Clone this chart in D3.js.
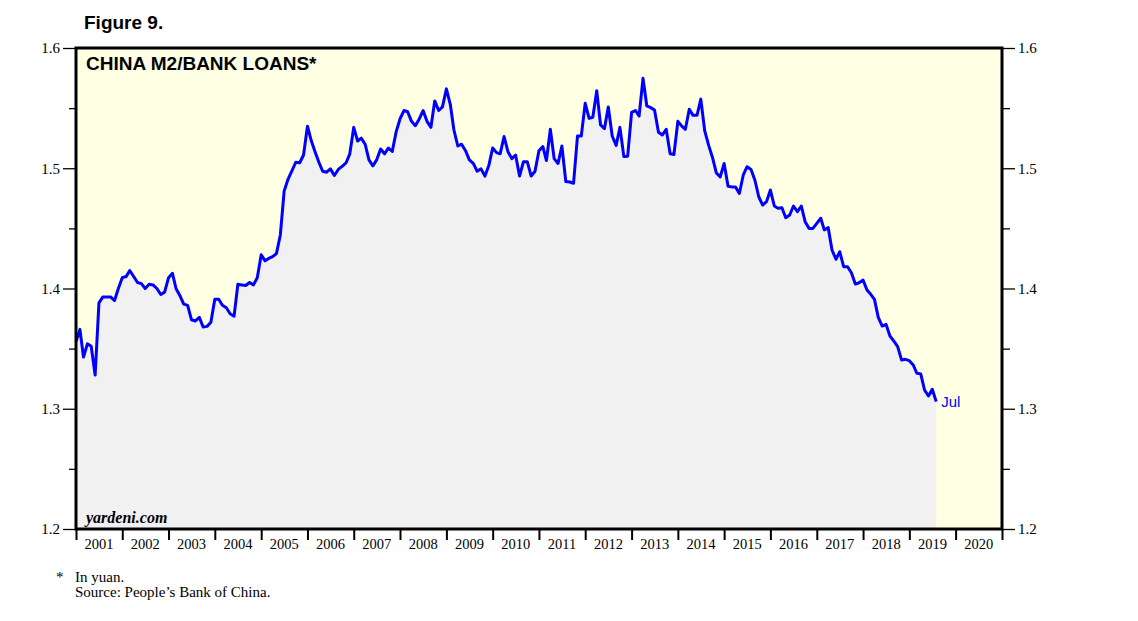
<!DOCTYPE html>
<html>
<head>
<meta charset="utf-8">
<script src="https://cdn.jsdelivr.net/npm/d3@7/dist/d3.min.js"></script>
<style>
  html, body { margin: 0; padding: 0; background: #ffffff; }
  svg { display: block; }
</style>
</head>
<body>
<svg id="chart" width="1138" height="621"></svg>
<script>
// ---- DATA ----
const firstMonth = "2000-12"; // first observation (monthly, plotted at month end)
const m2ToLoans = [
  1.356,
  // 2001
  1.366, 1.343, 1.354, 1.352, 1.328, 1.388, 1.393, 1.393, 1.393, 1.390, 1.400, 1.409,
  // 2002
  1.410, 1.415, 1.410, 1.405, 1.404, 1.400, 1.4035, 1.403, 1.400, 1.395, 1.397, 1.409,
  // 2003
  1.4126, 1.400, 1.394, 1.387, 1.386, 1.374, 1.373, 1.376, 1.368, 1.3685, 1.372, 1.391,
  // 2004
  1.391, 1.386, 1.384, 1.379, 1.377, 1.4035, 1.403, 1.4025, 1.405, 1.403, 1.409, 1.428,
  // 2005
  1.423, 1.425, 1.4265, 1.429, 1.4445, 1.481, 1.491, 1.498, 1.505, 1.5046, 1.511, 1.535,
  // 2006
  1.5226, 1.514, 1.505, 1.4975, 1.4967, 1.4995, 1.494, 1.499, 1.5016, 1.5044, 1.512, 1.534,
  // 2007
  1.5226, 1.525, 1.520, 1.507, 1.502, 1.507, 1.516, 1.512, 1.5168, 1.514, 1.530, 1.541,
  // 2008
  1.548, 1.547, 1.539, 1.5354, 1.541, 1.548, 1.539, 1.534, 1.556, 1.548, 1.551, 1.566,
  // 2009
  1.553, 1.532, 1.5185, 1.520, 1.5146, 1.507, 1.504, 1.4975, 1.4995, 1.4935, 1.502, 1.5168,
  // 2010
  1.513, 1.512, 1.5264, 1.514, 1.508, 1.511, 1.4935, 1.5055, 1.5055, 1.4935, 1.4975, 1.5146,
  // 2011
  1.518, 1.5064, 1.5324, 1.508, 1.504, 1.5185, 1.489, 1.4886, 1.4875, 1.5268, 1.5268, 1.554,
  // 2012
  1.5415, 1.5424, 1.5645, 1.536, 1.533, 1.551, 1.5268, 1.519, 1.534, 1.5097, 1.510, 1.5464,
  // 2013
  1.548, 1.5434, 1.5748, 1.5518, 1.5504, 1.5485, 1.530, 1.5277, 1.5324, 1.512, 1.5115, 1.539,
  // 2014
  1.535, 1.5324, 1.549, 1.544, 1.544, 1.5575, 1.531, 1.519, 1.509, 1.496, 1.4928, 1.504,
  // 2015
  1.485, 1.4845, 1.4845, 1.479, 1.4944, 1.5013, 1.499, 1.490, 1.4763, 1.4694, 1.4722, 1.4819,
  // 2016
  1.4686, 1.4667, 1.4672, 1.4589, 1.4611, 1.4686, 1.4639, 1.4686, 1.4556, 1.450, 1.450, 1.4542,
  // 2017
  1.4584, 1.4487, 1.4506, 1.432, 1.4243, 1.4306, 1.4181, 1.4181, 1.4131, 1.4037, 1.4048, 1.407,
  // 2018
  1.3988, 1.3954, 1.391, 1.376, 1.3688, 1.3702, 1.3605, 1.3563, 1.3516, 1.3405, 1.3411, 1.340,
  // 2019
  1.3364, 1.3295, 1.329, 1.3156, 1.3106, 1.3162, 1.3059
];
const yearLabels = ["2001","2002","2003","2004","2005","2006","2007","2008","2009","2010",
                    "2011","2012","2013","2014","2015","2016","2017","2018","2019","2020"];
const yTicks = [1.2, 1.3, 1.4, 1.5, 1.6];
const yMinorTicks = [1.25, 1.35, 1.45, 1.55];
const lastLabel = "Jul";

// ---- LAYOUT ----
const svg = d3.select("#chart");
const L = 76, R = 1002, T = 48, B = 529;
const SERIF = "Liberation Serif, Times New Roman, serif";
const SANS = "Liberation Sans, Arial, sans-serif";
const start = d3.timeParse("%Y-%m")(firstMonth);
const data = m2ToLoans.map((v, i) => ({ date: d3.timeMonth.offset(start, i + 1), value: v }));

const x = d3.scaleTime()
  .domain([new Date(+yearLabels[0], 0, 1), new Date(+yearLabels[yearLabels.length - 1] + 1, 0, 1)])
  .range([L, R]);
const y = d3.scaleLinear().domain([1.2, 1.6]).range([B, T]);

// plot background
svg.append("rect").attr("x", L).attr("y", T).attr("width", R - L).attr("height", B - T)
  .attr("fill", "#ffffe3");

// area under line
const area = d3.area().x(d => x(d.date)).y0(y(1.2)).y1(d => y(d.value));
svg.append("path").datum(data).attr("d", area).attr("fill", "#f1f1f1");

// line
const line = d3.line().x(d => x(d.date)).y(d => y(d.value));
svg.append("path").datum(data).attr("d", line)
  .attr("fill", "none").attr("stroke", "#0000ff").attr("stroke-width", 3)
  .attr("stroke-linejoin", "round");

// frame
svg.append("rect").attr("x", L).attr("y", T).attr("width", R - L).attr("height", B - T)
  .attr("fill", "none").attr("stroke", "#000").attr("stroke-width", 3);

function styleAxis(g) {
  g.select(".domain").remove();
  g.selectAll("line").attr("stroke", "#000").attr("stroke-width", 1.3);
  g.selectAll("text").attr("font-family", SERIF).attr("font-size", 15).attr("fill", "#000");
}

// left axis
svg.append("g").attr("transform", `translate(${L - 1},0)`)
  .call(d3.axisLeft(y).tickValues(yTicks).tickFormat(d3.format(".1f")).tickSize(12).tickPadding(3))
  .call(styleAxis);
svg.append("g").attr("transform", `translate(${L - 1},0)`)
  .call(d3.axisLeft(y).tickValues(yMinorTicks).tickFormat("").tickSize(6))
  .call(styleAxis);

// right axis
svg.append("g").attr("transform", `translate(${R + 1},0)`)
  .call(d3.axisRight(y).tickValues(yTicks).tickFormat(d3.format(".1f")).tickSize(12).tickPadding(3))
  .call(styleAxis);
svg.append("g").attr("transform", `translate(${R + 1},0)`)
  .call(d3.axisRight(y).tickValues(yMinorTicks).tickFormat("").tickSize(7))
  .call(styleAxis);

// bottom axis: ticks at year boundaries, labels centered in years
const yearStarts = yearLabels.map(s => new Date(+s, 0, 1)).concat([new Date(+yearLabels[yearLabels.length - 1] + 1, 0, 1)]);
const gb = svg.append("g").attr("transform", `translate(0,${B})`)
  .call(d3.axisBottom(x).tickValues(yearStarts).tickFormat("").tickSize(11));
gb.select(".domain").remove();
gb.selectAll("line").attr("stroke", "#000").attr("stroke-width", 2);

svg.append("g").selectAll("text").data(yearLabels).join("text")
  .attr("x", d => x(new Date(+d, 6, 2)))
  .attr("y", 549)
  .attr("text-anchor", "middle")
  .attr("font-family", SERIF)
  .attr("font-size", 14.5)
  .attr("fill", "#000")
  .text(d => d);

// titles
svg.append("text").attr("x", 84).attr("y", 29)
  .attr("font-family", SANS).attr("font-weight", "bold")
  .attr("font-size", 19).text("Figure 9.");
svg.append("text").attr("x", 86).attr("y", 70)
  .attr("font-family", SANS).attr("font-weight", "bold")
  .attr("font-size", 19).text("CHINA M2/BANK LOANS*");
svg.append("text").attr("x", 86).attr("y", 523)
  .attr("font-family", SERIF).attr("font-weight", "bold")
  .attr("font-style", "italic").attr("font-size", 16).text("yardeni.com");

// last value label
const last = data[data.length - 1];
svg.append("text").attr("x", x(last.date) + 5).attr("y", y(last.value) + 5)
  .attr("font-family", SANS).attr("font-size", 15)
  .attr("fill", "#0000ff").text(lastLabel);

// footnotes
const fn = svg.append("g").attr("font-family", SERIF)
  .attr("font-size", 15).attr("fill", "#000");
fn.append("text").attr("x", 56).attr("y", 582).text("*");
fn.append("text").attr("x", 75).attr("y", 582).text("In yuan.");
fn.append("text").attr("x", 75).attr("y", 597).text("Source: People\u2019s Bank of China.");
</script>
</body>
</html>
